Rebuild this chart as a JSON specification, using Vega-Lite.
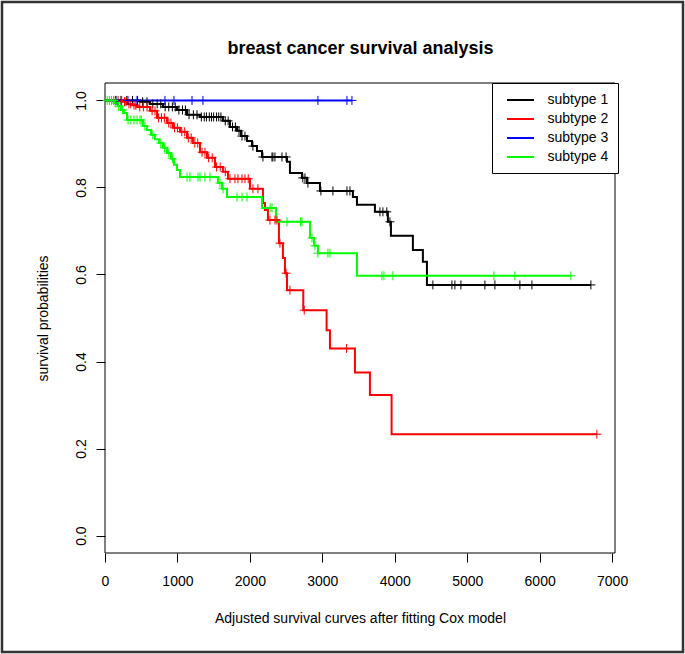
{
  "$schema": "https://vega.github.io/schema/vega-lite/v6.json",
  "width": 681,
  "height": 650,
  "autosize": "none",
  "padding": {"left": 2, "top": 2, "right": 2, "bottom": 2},
  "background": "white",
  "config": {
    "view": {"stroke": "#333333", "strokeWidth": 2.5},
    "font": "Liberation Sans"
  },
  "title": {
    "text": "breast cancer survival analysis",
    "font": "Liberation Sans",
    "fontSize": 18,
    "fontWeight": "bold",
    "color": "black",
    "anchor": "middle",
    "frame": "group",
    "offset": -56,
    "dx": 18
  },
  "datasets": {
    "curves": [
      {"subtype": "subtype 1", "time": 0, "surv": 1.0},
      {"subtype": "subtype 1", "time": 483, "surv": 0.997},
      {"subtype": "subtype 1", "time": 621, "surv": 0.992},
      {"subtype": "subtype 1", "time": 800, "surv": 0.985},
      {"subtype": "subtype 1", "time": 994, "surv": 0.978},
      {"subtype": "subtype 1", "time": 1132, "surv": 0.967},
      {"subtype": "subtype 1", "time": 1311, "surv": 0.962},
      {"subtype": "subtype 1", "time": 1628, "surv": 0.953},
      {"subtype": "subtype 1", "time": 1725, "surv": 0.939},
      {"subtype": "subtype 1", "time": 1822, "surv": 0.93},
      {"subtype": "subtype 1", "time": 1877, "surv": 0.918},
      {"subtype": "subtype 1", "time": 1960, "surv": 0.907},
      {"subtype": "subtype 1", "time": 2029, "surv": 0.895},
      {"subtype": "subtype 1", "time": 2098, "surv": 0.884},
      {"subtype": "subtype 1", "time": 2167, "surv": 0.87},
      {"subtype": "subtype 1", "time": 2512, "surv": 0.859},
      {"subtype": "subtype 1", "time": 2553, "surv": 0.833},
      {"subtype": "subtype 1", "time": 2719, "surv": 0.822},
      {"subtype": "subtype 1", "time": 2788, "surv": 0.81},
      {"subtype": "subtype 1", "time": 2967, "surv": 0.792},
      {"subtype": "subtype 1", "time": 3422, "surv": 0.778},
      {"subtype": "subtype 1", "time": 3478, "surv": 0.76},
      {"subtype": "subtype 1", "time": 3726, "surv": 0.744},
      {"subtype": "subtype 1", "time": 3905, "surv": 0.721},
      {"subtype": "subtype 1", "time": 3947, "surv": 0.689},
      {"subtype": "subtype 1", "time": 4250, "surv": 0.656},
      {"subtype": "subtype 1", "time": 4388, "surv": 0.629},
      {"subtype": "subtype 1", "time": 4444, "surv": 0.576},
      {"subtype": "subtype 1", "time": 6707, "surv": 0.576},
      {"subtype": "subtype 2", "time": 0, "surv": 1.0},
      {"subtype": "subtype 2", "time": 248, "surv": 0.997},
      {"subtype": "subtype 2", "time": 304, "surv": 0.992},
      {"subtype": "subtype 2", "time": 373, "surv": 0.989},
      {"subtype": "subtype 2", "time": 442, "surv": 0.985},
      {"subtype": "subtype 2", "time": 621, "surv": 0.976},
      {"subtype": "subtype 2", "time": 718, "surv": 0.96},
      {"subtype": "subtype 2", "time": 856, "surv": 0.948},
      {"subtype": "subtype 2", "time": 938, "surv": 0.937},
      {"subtype": "subtype 2", "time": 1035, "surv": 0.928},
      {"subtype": "subtype 2", "time": 1132, "surv": 0.914},
      {"subtype": "subtype 2", "time": 1214, "surv": 0.902},
      {"subtype": "subtype 2", "time": 1311, "surv": 0.881},
      {"subtype": "subtype 2", "time": 1408, "surv": 0.868},
      {"subtype": "subtype 2", "time": 1518, "surv": 0.847},
      {"subtype": "subtype 2", "time": 1628, "surv": 0.836},
      {"subtype": "subtype 2", "time": 1697, "surv": 0.82},
      {"subtype": "subtype 2", "time": 2001, "surv": 0.797},
      {"subtype": "subtype 2", "time": 2180, "surv": 0.764},
      {"subtype": "subtype 2", "time": 2208, "surv": 0.748},
      {"subtype": "subtype 2", "time": 2249, "surv": 0.725},
      {"subtype": "subtype 2", "time": 2401, "surv": 0.672},
      {"subtype": "subtype 2", "time": 2456, "surv": 0.638},
      {"subtype": "subtype 2", "time": 2484, "surv": 0.603},
      {"subtype": "subtype 2", "time": 2512, "surv": 0.564},
      {"subtype": "subtype 2", "time": 2737, "surv": 0.518},
      {"subtype": "subtype 2", "time": 3059, "surv": 0.472},
      {"subtype": "subtype 2", "time": 3105, "surv": 0.43},
      {"subtype": "subtype 2", "time": 3450, "surv": 0.375},
      {"subtype": "subtype 2", "time": 3657, "surv": 0.323},
      {"subtype": "subtype 2", "time": 3956, "surv": 0.233},
      {"subtype": "subtype 2", "time": 6790, "surv": 0.233},
      {"subtype": "subtype 3", "time": 0, "surv": 1.0},
      {"subtype": "subtype 3", "time": 3409, "surv": 1.0},
      {"subtype": "subtype 4", "time": 0, "surv": 1.0},
      {"subtype": "subtype 4", "time": 138, "surv": 0.994},
      {"subtype": "subtype 4", "time": 179, "surv": 0.987},
      {"subtype": "subtype 4", "time": 221, "surv": 0.978},
      {"subtype": "subtype 4", "time": 262, "surv": 0.971},
      {"subtype": "subtype 4", "time": 304, "surv": 0.955},
      {"subtype": "subtype 4", "time": 524, "surv": 0.941},
      {"subtype": "subtype 4", "time": 580, "surv": 0.932},
      {"subtype": "subtype 4", "time": 635, "surv": 0.921},
      {"subtype": "subtype 4", "time": 690, "surv": 0.911},
      {"subtype": "subtype 4", "time": 745, "surv": 0.902},
      {"subtype": "subtype 4", "time": 800, "surv": 0.891},
      {"subtype": "subtype 4", "time": 856, "surv": 0.879},
      {"subtype": "subtype 4", "time": 911, "surv": 0.866},
      {"subtype": "subtype 4", "time": 952, "surv": 0.852},
      {"subtype": "subtype 4", "time": 994, "surv": 0.84},
      {"subtype": "subtype 4", "time": 1035, "surv": 0.824},
      {"subtype": "subtype 4", "time": 1559, "surv": 0.81},
      {"subtype": "subtype 4", "time": 1615, "surv": 0.797},
      {"subtype": "subtype 4", "time": 1684, "surv": 0.778},
      {"subtype": "subtype 4", "time": 2167, "surv": 0.753},
      {"subtype": "subtype 4", "time": 2360, "surv": 0.721},
      {"subtype": "subtype 4", "time": 2829, "surv": 0.684},
      {"subtype": "subtype 4", "time": 2884, "surv": 0.666},
      {"subtype": "subtype 4", "time": 2939, "surv": 0.649},
      {"subtype": "subtype 4", "time": 3478, "surv": 0.597},
      {"subtype": "subtype 4", "time": 6431, "surv": 0.597}
    ],
    "censors": [
      {"subtype": "subtype 1", "time": 150, "surv": 1.0},
      {"subtype": "subtype 1", "time": 220, "surv": 1.0},
      {"subtype": "subtype 1", "time": 300, "surv": 1.0},
      {"subtype": "subtype 1", "time": 380, "surv": 1.0},
      {"subtype": "subtype 1", "time": 450, "surv": 1.0},
      {"subtype": "subtype 1", "time": 520, "surv": 0.997},
      {"subtype": "subtype 1", "time": 580, "surv": 0.997},
      {"subtype": "subtype 1", "time": 660, "surv": 0.992},
      {"subtype": "subtype 1", "time": 720, "surv": 0.992},
      {"subtype": "subtype 1", "time": 770, "surv": 0.992},
      {"subtype": "subtype 1", "time": 830, "surv": 0.985},
      {"subtype": "subtype 1", "time": 880, "surv": 0.985},
      {"subtype": "subtype 1", "time": 930, "surv": 0.985},
      {"subtype": "subtype 1", "time": 970, "surv": 0.985},
      {"subtype": "subtype 1", "time": 1020, "surv": 0.978},
      {"subtype": "subtype 1", "time": 1070, "surv": 0.978},
      {"subtype": "subtype 1", "time": 1110, "surv": 0.978},
      {"subtype": "subtype 1", "time": 1160, "surv": 0.967},
      {"subtype": "subtype 1", "time": 1220, "surv": 0.967},
      {"subtype": "subtype 1", "time": 1270, "surv": 0.967},
      {"subtype": "subtype 1", "time": 1330, "surv": 0.962},
      {"subtype": "subtype 1", "time": 1370, "surv": 0.962},
      {"subtype": "subtype 1", "time": 1400, "surv": 0.962},
      {"subtype": "subtype 1", "time": 1440, "surv": 0.962},
      {"subtype": "subtype 1", "time": 1470, "surv": 0.962},
      {"subtype": "subtype 1", "time": 1500, "surv": 0.962},
      {"subtype": "subtype 1", "time": 1540, "surv": 0.962},
      {"subtype": "subtype 1", "time": 1570, "surv": 0.962},
      {"subtype": "subtype 1", "time": 1600, "surv": 0.962},
      {"subtype": "subtype 1", "time": 1660, "surv": 0.953},
      {"subtype": "subtype 1", "time": 1700, "surv": 0.953},
      {"subtype": "subtype 1", "time": 1760, "surv": 0.939},
      {"subtype": "subtype 1", "time": 1800, "surv": 0.939},
      {"subtype": "subtype 1", "time": 1850, "surv": 0.93},
      {"subtype": "subtype 1", "time": 1891, "surv": 0.918},
      {"subtype": "subtype 1", "time": 1932, "surv": 0.918},
      {"subtype": "subtype 1", "time": 2042, "surv": 0.895},
      {"subtype": "subtype 1", "time": 2180, "surv": 0.87},
      {"subtype": "subtype 1", "time": 2305, "surv": 0.87},
      {"subtype": "subtype 1", "time": 2318, "surv": 0.87},
      {"subtype": "subtype 1", "time": 2346, "surv": 0.87},
      {"subtype": "subtype 1", "time": 2443, "surv": 0.87},
      {"subtype": "subtype 1", "time": 2500, "surv": 0.87},
      {"subtype": "subtype 1", "time": 2730, "surv": 0.822},
      {"subtype": "subtype 1", "time": 2760, "surv": 0.822},
      {"subtype": "subtype 1", "time": 2801, "surv": 0.81},
      {"subtype": "subtype 1", "time": 2980, "surv": 0.792},
      {"subtype": "subtype 1", "time": 3146, "surv": 0.792},
      {"subtype": "subtype 1", "time": 3340, "surv": 0.792},
      {"subtype": "subtype 1", "time": 3381, "surv": 0.792},
      {"subtype": "subtype 1", "time": 3795, "surv": 0.744},
      {"subtype": "subtype 1", "time": 3836, "surv": 0.744},
      {"subtype": "subtype 1", "time": 3890, "surv": 0.744},
      {"subtype": "subtype 1", "time": 3933, "surv": 0.721},
      {"subtype": "subtype 1", "time": 4526, "surv": 0.576},
      {"subtype": "subtype 1", "time": 4789, "surv": 0.576},
      {"subtype": "subtype 1", "time": 4830, "surv": 0.576},
      {"subtype": "subtype 1", "time": 4913, "surv": 0.576},
      {"subtype": "subtype 1", "time": 5244, "surv": 0.576},
      {"subtype": "subtype 1", "time": 5382, "surv": 0.576},
      {"subtype": "subtype 1", "time": 5727, "surv": 0.576},
      {"subtype": "subtype 1", "time": 5893, "surv": 0.576},
      {"subtype": "subtype 1", "time": 6707, "surv": 0.576},
      {"subtype": "subtype 2", "time": 120, "surv": 1.0},
      {"subtype": "subtype 2", "time": 180, "surv": 1.0},
      {"subtype": "subtype 2", "time": 230, "surv": 1.0},
      {"subtype": "subtype 2", "time": 270, "surv": 0.997},
      {"subtype": "subtype 2", "time": 290, "surv": 0.997},
      {"subtype": "subtype 2", "time": 330, "surv": 0.992},
      {"subtype": "subtype 2", "time": 355, "surv": 0.992},
      {"subtype": "subtype 2", "time": 400, "surv": 0.989},
      {"subtype": "subtype 2", "time": 425, "surv": 0.989},
      {"subtype": "subtype 2", "time": 480, "surv": 0.985},
      {"subtype": "subtype 2", "time": 530, "surv": 0.985},
      {"subtype": "subtype 2", "time": 580, "surv": 0.985},
      {"subtype": "subtype 2", "time": 650, "surv": 0.976},
      {"subtype": "subtype 2", "time": 690, "surv": 0.976},
      {"subtype": "subtype 2", "time": 740, "surv": 0.96},
      {"subtype": "subtype 2", "time": 780, "surv": 0.96},
      {"subtype": "subtype 2", "time": 820, "surv": 0.96},
      {"subtype": "subtype 2", "time": 880, "surv": 0.948},
      {"subtype": "subtype 2", "time": 910, "surv": 0.948},
      {"subtype": "subtype 2", "time": 960, "surv": 0.937},
      {"subtype": "subtype 2", "time": 1000, "surv": 0.937},
      {"subtype": "subtype 2", "time": 1060, "surv": 0.928},
      {"subtype": "subtype 2", "time": 1100, "surv": 0.928},
      {"subtype": "subtype 2", "time": 1150, "surv": 0.914},
      {"subtype": "subtype 2", "time": 1190, "surv": 0.914},
      {"subtype": "subtype 2", "time": 1240, "surv": 0.902},
      {"subtype": "subtype 2", "time": 1280, "surv": 0.902},
      {"subtype": "subtype 2", "time": 1340, "surv": 0.881},
      {"subtype": "subtype 2", "time": 1380, "surv": 0.881},
      {"subtype": "subtype 2", "time": 1430, "surv": 0.868},
      {"subtype": "subtype 2", "time": 1480, "surv": 0.868},
      {"subtype": "subtype 2", "time": 1540, "surv": 0.847},
      {"subtype": "subtype 2", "time": 1590, "surv": 0.847},
      {"subtype": "subtype 2", "time": 1660, "surv": 0.836},
      {"subtype": "subtype 2", "time": 1725, "surv": 0.82},
      {"subtype": "subtype 2", "time": 1794, "surv": 0.82},
      {"subtype": "subtype 2", "time": 1835, "surv": 0.82},
      {"subtype": "subtype 2", "time": 1891, "surv": 0.82},
      {"subtype": "subtype 2", "time": 1932, "surv": 0.82},
      {"subtype": "subtype 2", "time": 1977, "surv": 0.82},
      {"subtype": "subtype 2", "time": 2042, "surv": 0.797},
      {"subtype": "subtype 2", "time": 2111, "surv": 0.797},
      {"subtype": "subtype 2", "time": 2277, "surv": 0.725},
      {"subtype": "subtype 2", "time": 2346, "surv": 0.725},
      {"subtype": "subtype 2", "time": 2374, "surv": 0.725},
      {"subtype": "subtype 2", "time": 2415, "surv": 0.672},
      {"subtype": "subtype 2", "time": 2500, "surv": 0.603},
      {"subtype": "subtype 2", "time": 2553, "surv": 0.564},
      {"subtype": "subtype 2", "time": 2750, "surv": 0.518},
      {"subtype": "subtype 2", "time": 3335, "surv": 0.43},
      {"subtype": "subtype 2", "time": 6790, "surv": 0.233},
      {"subtype": "subtype 3", "time": 150, "surv": 1.0},
      {"subtype": "subtype 3", "time": 317, "surv": 1.0},
      {"subtype": "subtype 3", "time": 442, "surv": 1.0},
      {"subtype": "subtype 3", "time": 828, "surv": 1.0},
      {"subtype": "subtype 3", "time": 952, "surv": 1.0},
      {"subtype": "subtype 3", "time": 1201, "surv": 1.0},
      {"subtype": "subtype 3", "time": 1352, "surv": 1.0},
      {"subtype": "subtype 3", "time": 2939, "surv": 1.0},
      {"subtype": "subtype 3", "time": 3340, "surv": 1.0},
      {"subtype": "subtype 3", "time": 3409, "surv": 1.0},
      {"subtype": "subtype 4", "time": 30, "surv": 1.0},
      {"subtype": "subtype 4", "time": 60, "surv": 1.0},
      {"subtype": "subtype 4", "time": 90, "surv": 1.0},
      {"subtype": "subtype 4", "time": 120, "surv": 1.0},
      {"subtype": "subtype 4", "time": 150, "surv": 0.994},
      {"subtype": "subtype 4", "time": 190, "surv": 0.987},
      {"subtype": "subtype 4", "time": 240, "surv": 0.978},
      {"subtype": "subtype 4", "time": 318, "surv": 0.955},
      {"subtype": "subtype 4", "time": 359, "surv": 0.955},
      {"subtype": "subtype 4", "time": 400, "surv": 0.955},
      {"subtype": "subtype 4", "time": 442, "surv": 0.955},
      {"subtype": "subtype 4", "time": 483, "surv": 0.955},
      {"subtype": "subtype 4", "time": 500, "surv": 0.955},
      {"subtype": "subtype 4", "time": 550, "surv": 0.941},
      {"subtype": "subtype 4", "time": 660, "surv": 0.921},
      {"subtype": "subtype 4", "time": 770, "surv": 0.902},
      {"subtype": "subtype 4", "time": 820, "surv": 0.891},
      {"subtype": "subtype 4", "time": 880, "surv": 0.879},
      {"subtype": "subtype 4", "time": 930, "surv": 0.866},
      {"subtype": "subtype 4", "time": 1132, "surv": 0.824},
      {"subtype": "subtype 4", "time": 1173, "surv": 0.824},
      {"subtype": "subtype 4", "time": 1284, "surv": 0.824},
      {"subtype": "subtype 4", "time": 1311, "surv": 0.824},
      {"subtype": "subtype 4", "time": 1380, "surv": 0.824},
      {"subtype": "subtype 4", "time": 1449, "surv": 0.824},
      {"subtype": "subtype 4", "time": 1587, "surv": 0.81},
      {"subtype": "subtype 4", "time": 1630, "surv": 0.797},
      {"subtype": "subtype 4", "time": 1822, "surv": 0.778},
      {"subtype": "subtype 4", "time": 1891, "surv": 0.778},
      {"subtype": "subtype 4", "time": 1960, "surv": 0.778},
      {"subtype": "subtype 4", "time": 2280, "surv": 0.753},
      {"subtype": "subtype 4", "time": 2305, "surv": 0.753},
      {"subtype": "subtype 4", "time": 2512, "surv": 0.721},
      {"subtype": "subtype 4", "time": 2700, "surv": 0.721},
      {"subtype": "subtype 4", "time": 2719, "surv": 0.721},
      {"subtype": "subtype 4", "time": 2857, "surv": 0.684},
      {"subtype": "subtype 4", "time": 2898, "surv": 0.666},
      {"subtype": "subtype 4", "time": 2939, "surv": 0.649},
      {"subtype": "subtype 4", "time": 3077, "surv": 0.649},
      {"subtype": "subtype 4", "time": 3105, "surv": 0.649},
      {"subtype": "subtype 4", "time": 3823, "surv": 0.597},
      {"subtype": "subtype 4", "time": 3850, "surv": 0.597},
      {"subtype": "subtype 4", "time": 3974, "surv": 0.597},
      {"subtype": "subtype 4", "time": 5368, "surv": 0.597},
      {"subtype": "subtype 4", "time": 5658, "surv": 0.597},
      {"subtype": "subtype 4", "time": 6431, "surv": 0.597}
    ],
    "box": [{"x0": 0, "x1": 7040, "y0": -0.04, "y1": 1.04}]
  },
  "layer": [
    {
      "data": {"name": "box"},
      "mark": {"type": "rect", "filled": false, "stroke": "black", "strokeWidth": 1},
      "encoding": {
        "x": {"field": "x0", "type": "quantitative"},
        "x2": {"field": "x1"},
        "y": {"field": "y0", "type": "quantitative"},
        "y2": {"field": "y1"}
      }
    },
    {
      "data": {"name": "curves"},
      "mark": {"type": "line", "interpolate": "step-after", "strokeWidth": 2},
      "encoding": {
        "x": {
          "field": "time",
          "type": "quantitative",
          "scale": {"domain": [0, 7040], "range": [103, 613], "nice": false, "zero": false},
          "axis": {
            "orient": "bottom",
            "offset": -99,
            "values": [0, 1000, 2000, 3000, 4000, 5000, 6000, 7000],
            "format": "d",
            "domain": false,
            "grid": false,
            "tickSize": 9,
            "tickColor": "black",
            "labelFont": "Liberation Sans",
            "labelFontSize": 14,
            "labelColor": "black",
            "labelPadding": 12,
            "labelFlush": false,
            "labelOverlap": false,
            "title": "Adjusted survival curves after fitting Cox model",
            "titleFont": "Liberation Sans",
            "titleFontSize": 14,
            "titleFontWeight": "normal",
            "titleColor": "black",
            "titlePadding": 23
          }
        },
        "y": {
          "field": "surv",
          "type": "quantitative",
          "scale": {"domain": [-0.04, 1.04], "range": [551, 81], "nice": false, "zero": false},
          "axis": {
            "orient": "left",
            "offset": -103,
            "values": [0, 0.2, 0.4, 0.6, 0.8, 1.0],
            "format": ".1f",
            "domain": false,
            "grid": false,
            "tickSize": 9,
            "tickColor": "black",
            "labelFont": "Liberation Sans",
            "labelFontSize": 14,
            "labelColor": "black",
            "labelAngle": -90,
            "labelAlign": "center",
            "labelBaseline": "bottom",
            "labelPadding": 8,
            "labelFlush": false,
            "labelOverlap": false,
            "title": "survival probabilities",
            "titleFont": "Liberation Sans",
            "titleFontSize": 14,
            "titleFontWeight": "normal",
            "titleColor": "black",
            "titlePadding": 24
          }
        },
        "color": {
          "field": "subtype",
          "type": "nominal",
          "scale": {
            "domain": ["subtype 1", "subtype 2", "subtype 3", "subtype 4"],
            "range": ["#000000", "#FF0000", "#0000FF", "#00FF00"]
          },
          "legend": {
            "title": null,
            "orient": "none",
            "legendX": 490,
            "legendY": 81,
            "symbolType": "M-2,0L2,0",
            "symbolSize": 182.25,
            "symbolStrokeWidth": 2,
            "symbolOffset": 11.5,
            "labelFont": "Liberation Sans",
            "labelFontSize": 14,
            "labelColor": "black",
            "labelOffset": 19,
            "padding": 9,
            "rowPadding": 4,
            "strokeColor": "black",
            "fillColor": "white"
          }
        }
      }
    },
    {
      "data": {"name": "censors"},
      "mark": {"type": "point", "shape": "M-1,0L1,0M0,-1L0,1", "filled": false, "size": 81, "strokeWidth": 1, "opacity": 1},
      "encoding": {
        "x": {"field": "time", "type": "quantitative"},
        "y": {"field": "surv", "type": "quantitative"},
        "stroke": {
          "field": "subtype",
          "type": "nominal",
          "scale": {
            "domain": ["subtype 1", "subtype 2", "subtype 3", "subtype 4"],
            "range": ["#000000", "#FF0000", "#0000FF", "#00FF00"]
          },
          "legend": null
        }
      }
    }
  ]
}
